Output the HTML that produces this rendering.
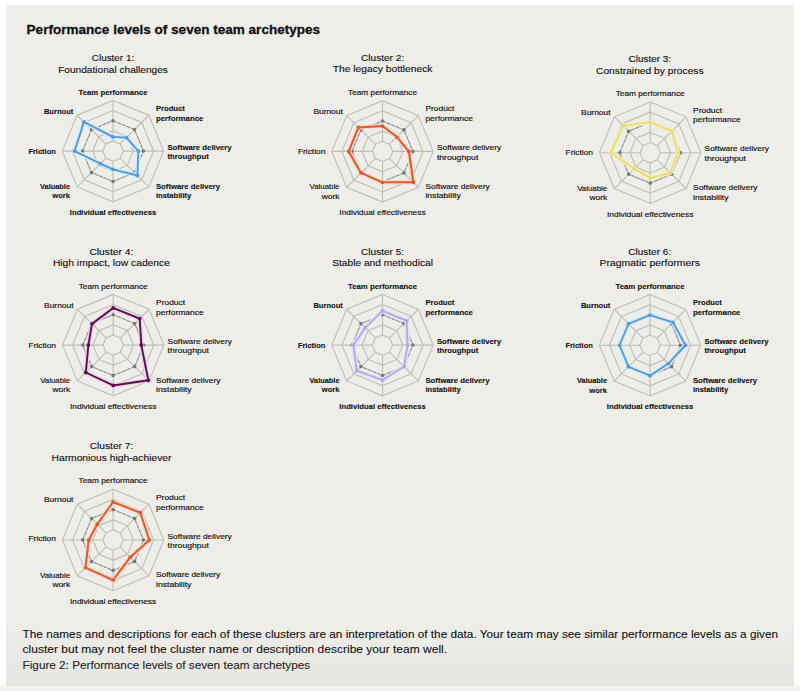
<!DOCTYPE html>
<html><head><meta charset="utf-8"><style>
html,body{margin:0;padding:0;background:#fff;width:800px;height:691px;overflow:hidden}
.panel{position:absolute;left:6px;top:5px;width:788px;height:681px;background:linear-gradient(to bottom,#eeede9 0,#eeede9 620px,#e6e5e1 681px)}
.bot{position:absolute;left:0;top:686px;width:800px;height:5px;background:linear-gradient(to bottom,#f6f5f2 0,#f6f5f2 1px,#f0f0f0 2px)}
svg{position:absolute;left:0;top:0}
text{font-family:"Liberation Sans",Arial,sans-serif;fill:#111111}
.title{font-size:13.4px;font-weight:bold;stroke:#111111;stroke-width:0.3px}
.ct{font-size:9.4px;stroke:#111111;stroke-width:0.12px}
.al{font-size:7.7px}
.al.b{font-weight:bold;stroke:#151515;stroke-width:0.12px}
.al.m{stroke:#111111;stroke-width:0.16px}
.foot{font-size:11.6px;stroke:#111111;stroke-width:0.1px}
.f3{fill:#262626;stroke:#262626;stroke-width:0.12px}
.gr{fill:none;stroke:#bdbdbb;stroke-width:1.1}
.av{fill:none;stroke:#888888;stroke-width:0.95;stroke-dasharray:3.5 1.5}
.ad{fill:#767a76}
</style></head><body>
<div class="panel"></div><div class="bot"></div>
<svg width="800" height="691" viewBox="0 0 800 691">
<text x="26.6" y="34" class="title" textLength="293.5" lengthAdjust="spacingAndGlyphs">Performance levels of seven team archetypes</text>
<g><polygon points="113.00,140.96 120.17,143.93 123.14,151.10 120.17,158.27 113.00,161.24 105.83,158.27 102.86,151.10 105.83,143.93" class="gr"/>
<polygon points="113.00,130.82 127.34,136.76 133.28,151.10 127.34,165.44 113.00,171.38 98.66,165.44 92.72,151.10 98.66,136.76" class="gr"/>
<polygon points="113.00,120.68 134.51,129.59 143.42,151.10 134.51,172.61 113.00,181.52 91.49,172.61 82.58,151.10 91.49,129.59" class="gr"/>
<polygon points="113.00,110.54 141.68,122.42 153.56,151.10 141.68,179.78 113.00,191.66 84.32,179.78 72.44,151.10 84.32,122.42" class="gr"/>
<polygon points="113.00,100.40 148.85,115.25 163.70,151.10 148.85,186.95 113.00,201.80 77.15,186.95 62.30,151.10 77.15,115.25" class="gr"/>
<line x1="113.00" y1="140.96" x2="113.00" y2="100.40" class="gr"/>
<line x1="120.17" y1="143.93" x2="148.85" y2="115.25" class="gr"/>
<line x1="123.14" y1="151.10" x2="163.70" y2="151.10" class="gr"/>
<line x1="120.17" y1="158.27" x2="148.85" y2="186.95" class="gr"/>
<line x1="113.00" y1="161.24" x2="113.00" y2="201.80" class="gr"/>
<line x1="105.83" y1="158.27" x2="77.15" y2="186.95" class="gr"/>
<line x1="102.86" y1="151.10" x2="62.30" y2="151.10" class="gr"/>
<line x1="105.83" y1="143.93" x2="77.15" y2="115.25" class="gr"/>
<polygon points="113.00,120.68 134.51,129.59 143.42,151.10 134.51,172.61 113.00,181.52 91.49,172.61 82.58,151.10 91.49,129.59" class="av"/>
<circle cx="113.00" cy="120.68" r="1.8" class="ad"/>
<circle cx="134.51" cy="129.59" r="1.8" class="ad"/>
<circle cx="143.42" cy="151.10" r="1.8" class="ad"/>
<circle cx="134.51" cy="172.61" r="1.8" class="ad"/>
<circle cx="113.00" cy="181.52" r="1.8" class="ad"/>
<circle cx="91.49" cy="172.61" r="1.8" class="ad"/>
<circle cx="82.58" cy="151.10" r="1.8" class="ad"/>
<circle cx="91.49" cy="129.59" r="1.8" class="ad"/>
<polygon points="113.00,136.90 126.48,137.62 138.35,151.10 137.38,175.48 113.00,169.35 100.45,163.65 74.67,151.10 83.82,121.92" fill="none" stroke="#d3ebf8" stroke-width="4.6" stroke-linejoin="round"/>
<polygon points="113.00,136.90 126.48,137.62 138.35,151.10 137.38,175.48 113.00,169.35 100.45,163.65 74.67,151.10 83.82,121.92" fill="none" stroke="#5399da" stroke-width="1.85" stroke-linejoin="round"/>
<circle cx="113.00" cy="136.90" r="1.9" fill="#5399da"/>
<circle cx="126.48" cy="137.62" r="1.9" fill="#5399da"/>
<circle cx="138.35" cy="151.10" r="1.9" fill="#5399da"/>
<circle cx="137.38" cy="175.48" r="1.9" fill="#5399da"/>
<circle cx="113.00" cy="169.35" r="1.9" fill="#5399da"/>
<circle cx="100.45" cy="163.65" r="1.9" fill="#5399da"/>
<circle cx="74.67" cy="151.10" r="1.9" fill="#5399da"/>
<circle cx="83.82" cy="121.92" r="1.9" fill="#5399da"/>
<text x="113.00" y="60.80" text-anchor="middle" class="ct" textLength="42.3" lengthAdjust="spacingAndGlyphs">Cluster 1:</text>
<text x="113.00" y="72.60" text-anchor="middle" class="ct" textLength="109.7" lengthAdjust="spacingAndGlyphs">Foundational challenges</text>
<text x="113.00" y="94.50" text-anchor="middle" class="al b" textLength="69.0" lengthAdjust="spacingAndGlyphs">Team performance</text>
<text x="155.90" y="111.10" text-anchor="start" class="al b" textLength="29.0" lengthAdjust="spacingAndGlyphs">Product</text>
<text x="155.90" y="120.60" text-anchor="start" class="al b" textLength="47.6" lengthAdjust="spacingAndGlyphs">performance</text>
<text x="167.40" y="149.80" text-anchor="start" class="al b" textLength="64.3" lengthAdjust="spacingAndGlyphs">Software delivery</text>
<text x="167.40" y="159.30" text-anchor="start" class="al b" textLength="41.4" lengthAdjust="spacingAndGlyphs">throughput</text>
<text x="155.90" y="188.50" text-anchor="start" class="al b" textLength="64.3" lengthAdjust="spacingAndGlyphs">Software delivery</text>
<text x="155.90" y="198.00" text-anchor="start" class="al b" textLength="35.4" lengthAdjust="spacingAndGlyphs">instability</text>
<text x="113.00" y="214.90" text-anchor="middle" class="al b" textLength="86.3" lengthAdjust="spacingAndGlyphs">Individual effectiveness</text>
<text x="70.00" y="188.90" text-anchor="end" class="al b" textLength="30.0" lengthAdjust="spacingAndGlyphs">Valuable</text>
<text x="70.00" y="198.40" text-anchor="end" class="al b" textLength="17.7" lengthAdjust="spacingAndGlyphs">work</text>
<text x="55.80" y="153.50" text-anchor="end" class="al b" textLength="27.4" lengthAdjust="spacingAndGlyphs">Friction</text>
<text x="73.30" y="113.50" text-anchor="end" class="al b" textLength="29.4" lengthAdjust="spacingAndGlyphs">Burnout</text></g>
<g><polygon points="382.50,141.26 389.67,144.23 392.64,151.40 389.67,158.57 382.50,161.54 375.33,158.57 372.36,151.40 375.33,144.23" class="gr"/>
<polygon points="382.50,131.12 396.84,137.06 402.78,151.40 396.84,165.74 382.50,171.68 368.16,165.74 362.22,151.40 368.16,137.06" class="gr"/>
<polygon points="382.50,120.98 404.01,129.89 412.92,151.40 404.01,172.91 382.50,181.82 360.99,172.91 352.08,151.40 360.99,129.89" class="gr"/>
<polygon points="382.50,110.84 411.18,122.72 423.06,151.40 411.18,180.08 382.50,191.96 353.82,180.08 341.94,151.40 353.82,122.72" class="gr"/>
<polygon points="382.50,100.70 418.35,115.55 433.20,151.40 418.35,187.25 382.50,202.10 346.65,187.25 331.80,151.40 346.65,115.55" class="gr"/>
<line x1="382.50" y1="141.26" x2="382.50" y2="100.70" class="gr"/>
<line x1="389.67" y1="144.23" x2="418.35" y2="115.55" class="gr"/>
<line x1="392.64" y1="151.40" x2="433.20" y2="151.40" class="gr"/>
<line x1="389.67" y1="158.57" x2="418.35" y2="187.25" class="gr"/>
<line x1="382.50" y1="161.54" x2="382.50" y2="202.10" class="gr"/>
<line x1="375.33" y1="158.57" x2="346.65" y2="187.25" class="gr"/>
<line x1="372.36" y1="151.40" x2="331.80" y2="151.40" class="gr"/>
<line x1="375.33" y1="144.23" x2="346.65" y2="115.55" class="gr"/>
<polygon points="382.50,120.98 404.01,129.89 412.92,151.40 404.01,172.91 382.50,181.82 360.99,172.91 352.08,151.40 360.99,129.89" class="av"/>
<circle cx="382.50" cy="120.98" r="1.8" class="ad"/>
<circle cx="404.01" cy="129.89" r="1.8" class="ad"/>
<circle cx="412.92" cy="151.40" r="1.8" class="ad"/>
<circle cx="404.01" cy="172.91" r="1.8" class="ad"/>
<circle cx="382.50" cy="181.82" r="1.8" class="ad"/>
<circle cx="360.99" cy="172.91" r="1.8" class="ad"/>
<circle cx="352.08" cy="151.40" r="1.8" class="ad"/>
<circle cx="360.99" cy="129.89" r="1.8" class="ad"/>
<polygon points="382.50,126.05 396.84,137.06 408.86,151.40 413.33,182.23 382.50,182.33 360.99,172.91 348.73,151.40 358.48,127.38" fill="none" stroke="#f3d9cb" stroke-width="4.6" stroke-linejoin="round"/>
<polygon points="382.50,126.05 396.84,137.06 408.86,151.40 413.33,182.23 382.50,182.33 360.99,172.91 348.73,151.40 358.48,127.38" fill="none" stroke="#e05c2a" stroke-width="2.0" stroke-linejoin="round"/>
<circle cx="382.50" cy="126.05" r="1.9" fill="#e05c2a"/>
<circle cx="396.84" cy="137.06" r="1.9" fill="#e05c2a"/>
<circle cx="408.86" cy="151.40" r="1.9" fill="#e05c2a"/>
<circle cx="413.33" cy="182.23" r="1.9" fill="#e05c2a"/>
<circle cx="382.50" cy="182.33" r="1.9" fill="#e05c2a"/>
<circle cx="360.99" cy="172.91" r="1.9" fill="#e05c2a"/>
<circle cx="348.73" cy="151.40" r="1.9" fill="#e05c2a"/>
<circle cx="358.48" cy="127.38" r="1.9" fill="#e05c2a"/>
<text x="382.60" y="60.80" text-anchor="middle" class="ct" textLength="43.2" lengthAdjust="spacingAndGlyphs">Cluster 2:</text>
<text x="382.60" y="72.40" text-anchor="middle" class="ct" textLength="99.7" lengthAdjust="spacingAndGlyphs">The legacy bottleneck</text>
<text x="382.50" y="94.80" text-anchor="middle" class="al m" textLength="69.0" lengthAdjust="spacingAndGlyphs">Team performance</text>
<text x="425.40" y="111.40" text-anchor="start" class="al m" textLength="29.0" lengthAdjust="spacingAndGlyphs">Product</text>
<text x="425.40" y="120.90" text-anchor="start" class="al m" textLength="47.6" lengthAdjust="spacingAndGlyphs">performance</text>
<text x="436.90" y="150.10" text-anchor="start" class="al m" textLength="64.3" lengthAdjust="spacingAndGlyphs">Software delivery</text>
<text x="436.90" y="159.60" text-anchor="start" class="al m" textLength="41.4" lengthAdjust="spacingAndGlyphs">throughput</text>
<text x="425.40" y="188.80" text-anchor="start" class="al m" textLength="64.3" lengthAdjust="spacingAndGlyphs">Software delivery</text>
<text x="425.40" y="198.30" text-anchor="start" class="al m" textLength="35.4" lengthAdjust="spacingAndGlyphs">instability</text>
<text x="382.50" y="215.20" text-anchor="middle" class="al m" textLength="86.3" lengthAdjust="spacingAndGlyphs">Individual effectiveness</text>
<text x="339.50" y="189.20" text-anchor="end" class="al m" textLength="30.0" lengthAdjust="spacingAndGlyphs">Valuable</text>
<text x="339.50" y="198.70" text-anchor="end" class="al m" textLength="17.7" lengthAdjust="spacingAndGlyphs">work</text>
<text x="325.30" y="153.80" text-anchor="end" class="al m" textLength="27.4" lengthAdjust="spacingAndGlyphs">Friction</text>
<text x="342.80" y="113.80" text-anchor="end" class="al m" textLength="29.4" lengthAdjust="spacingAndGlyphs">Burnout</text></g>
<g><polygon points="650.20,142.56 657.37,145.53 660.34,152.70 657.37,159.87 650.20,162.84 643.03,159.87 640.06,152.70 643.03,145.53" class="gr"/>
<polygon points="650.20,132.42 664.54,138.36 670.48,152.70 664.54,167.04 650.20,172.98 635.86,167.04 629.92,152.70 635.86,138.36" class="gr"/>
<polygon points="650.20,122.28 671.71,131.19 680.62,152.70 671.71,174.21 650.20,183.12 628.69,174.21 619.78,152.70 628.69,131.19" class="gr"/>
<polygon points="650.20,112.14 678.88,124.02 690.76,152.70 678.88,181.38 650.20,193.26 621.52,181.38 609.64,152.70 621.52,124.02" class="gr"/>
<polygon points="650.20,102.00 686.05,116.85 700.90,152.70 686.05,188.55 650.20,203.40 614.35,188.55 599.50,152.70 614.35,116.85" class="gr"/>
<line x1="650.20" y1="142.56" x2="650.20" y2="102.00" class="gr"/>
<line x1="657.37" y1="145.53" x2="686.05" y2="116.85" class="gr"/>
<line x1="660.34" y1="152.70" x2="700.90" y2="152.70" class="gr"/>
<line x1="657.37" y1="159.87" x2="686.05" y2="188.55" class="gr"/>
<line x1="650.20" y1="162.84" x2="650.20" y2="203.40" class="gr"/>
<line x1="643.03" y1="159.87" x2="614.35" y2="188.55" class="gr"/>
<line x1="640.06" y1="152.70" x2="599.50" y2="152.70" class="gr"/>
<line x1="643.03" y1="145.53" x2="614.35" y2="116.85" class="gr"/>
<polygon points="650.20,122.28 671.71,131.19 680.62,152.70 671.71,174.21 650.20,183.12 628.69,174.21 619.78,152.70 628.69,131.19" class="av"/>
<circle cx="650.20" cy="122.28" r="1.8" class="ad"/>
<circle cx="671.71" cy="131.19" r="1.8" class="ad"/>
<circle cx="680.62" cy="152.70" r="1.8" class="ad"/>
<circle cx="671.71" cy="174.21" r="1.8" class="ad"/>
<circle cx="650.20" cy="183.12" r="1.8" class="ad"/>
<circle cx="628.69" cy="174.21" r="1.8" class="ad"/>
<circle cx="619.78" cy="152.70" r="1.8" class="ad"/>
<circle cx="628.69" cy="131.19" r="1.8" class="ad"/>
<polygon points="650.20,122.28 671.85,131.05 677.98,152.70 670.28,172.78 650.20,178.05 634.28,168.62 610.86,152.70 623.10,125.60" fill="none" stroke="#f2efc4" stroke-width="4.6" stroke-linejoin="round"/>
<polygon points="650.20,122.28 671.85,131.05 677.98,152.70 670.28,172.78 650.20,178.05 634.28,168.62 610.86,152.70 623.10,125.60" fill="none" stroke="#e5de7a" stroke-width="1.8" stroke-linejoin="round"/>
<circle cx="650.20" cy="122.28" r="1.9" fill="#e5de7a"/>
<circle cx="671.85" cy="131.05" r="1.9" fill="#e5de7a"/>
<circle cx="677.98" cy="152.70" r="1.9" fill="#e5de7a"/>
<circle cx="670.28" cy="172.78" r="1.9" fill="#e5de7a"/>
<circle cx="650.20" cy="178.05" r="1.9" fill="#e5de7a"/>
<circle cx="634.28" cy="168.62" r="1.9" fill="#e5de7a"/>
<circle cx="610.86" cy="152.70" r="1.9" fill="#e5de7a"/>
<circle cx="623.10" cy="125.60" r="1.9" fill="#e5de7a"/>
<text x="649.80" y="62.40" text-anchor="middle" class="ct" textLength="42.6" lengthAdjust="spacingAndGlyphs">Cluster 3:</text>
<text x="649.80" y="74.00" text-anchor="middle" class="ct" textLength="107.6" lengthAdjust="spacingAndGlyphs">Constrained by process</text>
<text x="650.20" y="96.10" text-anchor="middle" class="al m" textLength="69.0" lengthAdjust="spacingAndGlyphs">Team performance</text>
<text x="693.10" y="112.70" text-anchor="start" class="al m" textLength="29.0" lengthAdjust="spacingAndGlyphs">Product</text>
<text x="693.10" y="122.20" text-anchor="start" class="al m" textLength="47.6" lengthAdjust="spacingAndGlyphs">performance</text>
<text x="704.60" y="151.40" text-anchor="start" class="al m" textLength="64.3" lengthAdjust="spacingAndGlyphs">Software delivery</text>
<text x="704.60" y="160.90" text-anchor="start" class="al m" textLength="41.4" lengthAdjust="spacingAndGlyphs">throughput</text>
<text x="693.10" y="190.10" text-anchor="start" class="al m" textLength="64.3" lengthAdjust="spacingAndGlyphs">Software delivery</text>
<text x="693.10" y="199.60" text-anchor="start" class="al m" textLength="35.4" lengthAdjust="spacingAndGlyphs">instability</text>
<text x="650.20" y="216.50" text-anchor="middle" class="al m" textLength="86.3" lengthAdjust="spacingAndGlyphs">Individual effectiveness</text>
<text x="607.20" y="190.50" text-anchor="end" class="al m" textLength="30.0" lengthAdjust="spacingAndGlyphs">Valuable</text>
<text x="607.20" y="200.00" text-anchor="end" class="al m" textLength="17.7" lengthAdjust="spacingAndGlyphs">work</text>
<text x="593.00" y="155.10" text-anchor="end" class="al m" textLength="27.4" lengthAdjust="spacingAndGlyphs">Friction</text>
<text x="610.50" y="115.10" text-anchor="end" class="al m" textLength="29.4" lengthAdjust="spacingAndGlyphs">Burnout</text></g>
<g><polygon points="113.20,334.96 120.37,337.93 123.34,345.10 120.37,352.27 113.20,355.24 106.03,352.27 103.06,345.10 106.03,337.93" class="gr"/>
<polygon points="113.20,324.82 127.54,330.76 133.48,345.10 127.54,359.44 113.20,365.38 98.86,359.44 92.92,345.10 98.86,330.76" class="gr"/>
<polygon points="113.20,314.68 134.71,323.59 143.62,345.10 134.71,366.61 113.20,375.52 91.69,366.61 82.78,345.10 91.69,323.59" class="gr"/>
<polygon points="113.20,304.54 141.88,316.42 153.76,345.10 141.88,373.78 113.20,385.66 84.52,373.78 72.64,345.10 84.52,316.42" class="gr"/>
<polygon points="113.20,294.40 149.05,309.25 163.90,345.10 149.05,380.95 113.20,395.80 77.35,380.95 62.50,345.10 77.35,309.25" class="gr"/>
<line x1="113.20" y1="334.96" x2="113.20" y2="294.40" class="gr"/>
<line x1="120.37" y1="337.93" x2="149.05" y2="309.25" class="gr"/>
<line x1="123.34" y1="345.10" x2="163.90" y2="345.10" class="gr"/>
<line x1="120.37" y1="352.27" x2="149.05" y2="380.95" class="gr"/>
<line x1="113.20" y1="355.24" x2="113.20" y2="395.80" class="gr"/>
<line x1="106.03" y1="352.27" x2="77.35" y2="380.95" class="gr"/>
<line x1="103.06" y1="345.10" x2="62.50" y2="345.10" class="gr"/>
<line x1="106.03" y1="337.93" x2="77.35" y2="309.25" class="gr"/>
<polygon points="113.20,314.68 134.71,323.59 143.62,345.10 134.71,366.61 113.20,375.52 91.69,366.61 82.78,345.10 91.69,323.59" class="av"/>
<circle cx="113.20" cy="314.68" r="1.8" class="ad"/>
<circle cx="134.71" cy="323.59" r="1.8" class="ad"/>
<circle cx="143.62" cy="345.10" r="1.8" class="ad"/>
<circle cx="134.71" cy="366.61" r="1.8" class="ad"/>
<circle cx="113.20" cy="375.52" r="1.8" class="ad"/>
<circle cx="91.69" cy="366.61" r="1.8" class="ad"/>
<circle cx="82.78" cy="345.10" r="1.8" class="ad"/>
<circle cx="91.69" cy="323.59" r="1.8" class="ad"/>
<polygon points="113.20,307.99 139.73,318.57 141.29,345.10 148.33,380.23 113.20,385.46 85.81,372.49 88.36,345.10 91.98,323.88" fill="none" stroke="#edd3e8" stroke-width="4.6" stroke-linejoin="round"/>
<polygon points="113.20,307.99 139.73,318.57 141.29,345.10 148.33,380.23 113.20,385.46 85.81,372.49 88.36,345.10 91.98,323.88" fill="none" stroke="#5e0c52" stroke-width="1.9" stroke-linejoin="round"/>
<circle cx="113.20" cy="307.99" r="1.9" fill="#5e0c52"/>
<circle cx="139.73" cy="318.57" r="1.9" fill="#5e0c52"/>
<circle cx="141.29" cy="345.10" r="1.9" fill="#5e0c52"/>
<circle cx="148.33" cy="380.23" r="1.9" fill="#5e0c52"/>
<circle cx="113.20" cy="385.46" r="1.9" fill="#5e0c52"/>
<circle cx="85.81" cy="372.49" r="1.9" fill="#5e0c52"/>
<circle cx="88.36" cy="345.10" r="1.9" fill="#5e0c52"/>
<circle cx="91.98" cy="323.88" r="1.9" fill="#5e0c52"/>
<text x="111.40" y="255.00" text-anchor="middle" class="ct" textLength="43.9" lengthAdjust="spacingAndGlyphs">Cluster 4:</text>
<text x="111.40" y="266.30" text-anchor="middle" class="ct" textLength="117.0" lengthAdjust="spacingAndGlyphs">High impact, low cadence</text>
<text x="113.20" y="288.50" text-anchor="middle" class="al m" textLength="69.0" lengthAdjust="spacingAndGlyphs">Team performance</text>
<text x="156.10" y="305.10" text-anchor="start" class="al m" textLength="29.0" lengthAdjust="spacingAndGlyphs">Product</text>
<text x="156.10" y="314.60" text-anchor="start" class="al m" textLength="47.6" lengthAdjust="spacingAndGlyphs">performance</text>
<text x="167.60" y="343.80" text-anchor="start" class="al m" textLength="64.3" lengthAdjust="spacingAndGlyphs">Software delivery</text>
<text x="167.60" y="353.30" text-anchor="start" class="al m" textLength="41.4" lengthAdjust="spacingAndGlyphs">throughput</text>
<text x="156.10" y="382.50" text-anchor="start" class="al m" textLength="64.3" lengthAdjust="spacingAndGlyphs">Software delivery</text>
<text x="156.10" y="392.00" text-anchor="start" class="al m" textLength="35.4" lengthAdjust="spacingAndGlyphs">instability</text>
<text x="113.20" y="408.90" text-anchor="middle" class="al m" textLength="86.3" lengthAdjust="spacingAndGlyphs">Individual effectiveness</text>
<text x="70.20" y="382.90" text-anchor="end" class="al m" textLength="30.0" lengthAdjust="spacingAndGlyphs">Valuable</text>
<text x="70.20" y="392.40" text-anchor="end" class="al m" textLength="17.7" lengthAdjust="spacingAndGlyphs">work</text>
<text x="56.00" y="347.50" text-anchor="end" class="al m" textLength="27.4" lengthAdjust="spacingAndGlyphs">Friction</text>
<text x="73.50" y="307.50" text-anchor="end" class="al m" textLength="29.4" lengthAdjust="spacingAndGlyphs">Burnout</text></g>
<g><polygon points="382.50,334.96 389.67,337.93 392.64,345.10 389.67,352.27 382.50,355.24 375.33,352.27 372.36,345.10 375.33,337.93" class="gr"/>
<polygon points="382.50,324.82 396.84,330.76 402.78,345.10 396.84,359.44 382.50,365.38 368.16,359.44 362.22,345.10 368.16,330.76" class="gr"/>
<polygon points="382.50,314.68 404.01,323.59 412.92,345.10 404.01,366.61 382.50,375.52 360.99,366.61 352.08,345.10 360.99,323.59" class="gr"/>
<polygon points="382.50,304.54 411.18,316.42 423.06,345.10 411.18,373.78 382.50,385.66 353.82,373.78 341.94,345.10 353.82,316.42" class="gr"/>
<polygon points="382.50,294.40 418.35,309.25 433.20,345.10 418.35,380.95 382.50,395.80 346.65,380.95 331.80,345.10 346.65,309.25" class="gr"/>
<line x1="382.50" y1="334.96" x2="382.50" y2="294.40" class="gr"/>
<line x1="389.67" y1="337.93" x2="418.35" y2="309.25" class="gr"/>
<line x1="392.64" y1="345.10" x2="433.20" y2="345.10" class="gr"/>
<line x1="389.67" y1="352.27" x2="418.35" y2="380.95" class="gr"/>
<line x1="382.50" y1="355.24" x2="382.50" y2="395.80" class="gr"/>
<line x1="375.33" y1="352.27" x2="346.65" y2="380.95" class="gr"/>
<line x1="372.36" y1="345.10" x2="331.80" y2="345.10" class="gr"/>
<line x1="375.33" y1="337.93" x2="346.65" y2="309.25" class="gr"/>
<polygon points="382.50,314.68 404.01,323.59 412.92,345.10 404.01,366.61 382.50,375.52 360.99,366.61 352.08,345.10 360.99,323.59" class="av"/>
<circle cx="382.50" cy="314.68" r="1.8" class="ad"/>
<circle cx="404.01" cy="323.59" r="1.8" class="ad"/>
<circle cx="412.92" cy="345.10" r="1.8" class="ad"/>
<circle cx="404.01" cy="366.61" r="1.8" class="ad"/>
<circle cx="382.50" cy="375.52" r="1.8" class="ad"/>
<circle cx="360.99" cy="366.61" r="1.8" class="ad"/>
<circle cx="352.08" cy="345.10" r="1.8" class="ad"/>
<circle cx="360.99" cy="323.59" r="1.8" class="ad"/>
<polygon points="382.50,310.83 406.73,320.87 407.65,345.10 404.01,366.61 382.50,380.08 356.83,370.77 353.50,345.10 365.15,327.75" fill="none" stroke="#e4e2f5" stroke-width="4.6" stroke-linejoin="round"/>
<polygon points="382.50,310.83 406.73,320.87 407.65,345.10 404.01,366.61 382.50,380.08 356.83,370.77 353.50,345.10 365.15,327.75" fill="none" stroke="#aca8ec" stroke-width="1.7" stroke-linejoin="round"/>
<circle cx="382.50" cy="310.83" r="1.9" fill="#aca8ec"/>
<circle cx="406.73" cy="320.87" r="1.9" fill="#aca8ec"/>
<circle cx="407.65" cy="345.10" r="1.9" fill="#aca8ec"/>
<circle cx="404.01" cy="366.61" r="1.9" fill="#aca8ec"/>
<circle cx="382.50" cy="380.08" r="1.9" fill="#aca8ec"/>
<circle cx="356.83" cy="370.77" r="1.9" fill="#aca8ec"/>
<circle cx="353.50" cy="345.10" r="1.9" fill="#aca8ec"/>
<circle cx="365.15" cy="327.75" r="1.9" fill="#aca8ec"/>
<text x="382.60" y="255.00" text-anchor="middle" class="ct" textLength="43.0" lengthAdjust="spacingAndGlyphs">Cluster 5:</text>
<text x="382.60" y="266.30" text-anchor="middle" class="ct" textLength="100.7" lengthAdjust="spacingAndGlyphs">Stable and methodical</text>
<text x="382.50" y="288.50" text-anchor="middle" class="al b" textLength="69.0" lengthAdjust="spacingAndGlyphs">Team performance</text>
<text x="425.40" y="305.10" text-anchor="start" class="al b" textLength="29.0" lengthAdjust="spacingAndGlyphs">Product</text>
<text x="425.40" y="314.60" text-anchor="start" class="al b" textLength="47.6" lengthAdjust="spacingAndGlyphs">performance</text>
<text x="436.90" y="343.80" text-anchor="start" class="al b" textLength="64.3" lengthAdjust="spacingAndGlyphs">Software delivery</text>
<text x="436.90" y="353.30" text-anchor="start" class="al b" textLength="41.4" lengthAdjust="spacingAndGlyphs">throughput</text>
<text x="425.40" y="382.50" text-anchor="start" class="al b" textLength="64.3" lengthAdjust="spacingAndGlyphs">Software delivery</text>
<text x="425.40" y="392.00" text-anchor="start" class="al b" textLength="35.4" lengthAdjust="spacingAndGlyphs">instability</text>
<text x="382.50" y="408.90" text-anchor="middle" class="al b" textLength="86.3" lengthAdjust="spacingAndGlyphs">Individual effectiveness</text>
<text x="339.50" y="382.90" text-anchor="end" class="al b" textLength="30.0" lengthAdjust="spacingAndGlyphs">Valuable</text>
<text x="339.50" y="392.40" text-anchor="end" class="al b" textLength="17.7" lengthAdjust="spacingAndGlyphs">work</text>
<text x="325.30" y="347.50" text-anchor="end" class="al b" textLength="27.4" lengthAdjust="spacingAndGlyphs">Friction</text>
<text x="342.80" y="307.50" text-anchor="end" class="al b" textLength="29.4" lengthAdjust="spacingAndGlyphs">Burnout</text></g>
<g><polygon points="650.00,335.11 657.17,338.08 660.14,345.25 657.17,352.42 650.00,355.39 642.83,352.42 639.86,345.25 642.83,338.08" class="gr"/>
<polygon points="650.00,324.97 664.34,330.91 670.28,345.25 664.34,359.59 650.00,365.53 635.66,359.59 629.72,345.25 635.66,330.91" class="gr"/>
<polygon points="650.00,314.83 671.51,323.74 680.42,345.25 671.51,366.76 650.00,375.67 628.49,366.76 619.58,345.25 628.49,323.74" class="gr"/>
<polygon points="650.00,304.69 678.68,316.57 690.56,345.25 678.68,373.93 650.00,385.81 621.32,373.93 609.44,345.25 621.32,316.57" class="gr"/>
<polygon points="650.00,294.55 685.85,309.40 700.70,345.25 685.85,381.10 650.00,395.95 614.15,381.10 599.30,345.25 614.15,309.40" class="gr"/>
<line x1="650.00" y1="335.11" x2="650.00" y2="294.55" class="gr"/>
<line x1="657.17" y1="338.08" x2="685.85" y2="309.40" class="gr"/>
<line x1="660.14" y1="345.25" x2="700.70" y2="345.25" class="gr"/>
<line x1="657.17" y1="352.42" x2="685.85" y2="381.10" class="gr"/>
<line x1="650.00" y1="355.39" x2="650.00" y2="395.95" class="gr"/>
<line x1="642.83" y1="352.42" x2="614.15" y2="381.10" class="gr"/>
<line x1="639.86" y1="345.25" x2="599.30" y2="345.25" class="gr"/>
<line x1="642.83" y1="338.08" x2="614.15" y2="309.40" class="gr"/>
<polygon points="650.00,314.83 671.51,323.74 680.42,345.25 671.51,366.76 650.00,375.67 628.49,366.76 619.58,345.25 628.49,323.74" class="av"/>
<circle cx="650.00" cy="314.83" r="1.8" class="ad"/>
<circle cx="671.51" cy="323.74" r="1.8" class="ad"/>
<circle cx="680.42" cy="345.25" r="1.8" class="ad"/>
<circle cx="671.51" cy="366.76" r="1.8" class="ad"/>
<circle cx="650.00" cy="375.67" r="1.8" class="ad"/>
<circle cx="628.49" cy="366.76" r="1.8" class="ad"/>
<circle cx="619.58" cy="345.25" r="1.8" class="ad"/>
<circle cx="628.49" cy="323.74" r="1.8" class="ad"/>
<polygon points="650.00,315.03 672.94,322.31 685.49,345.25 668.28,363.53 650.00,375.67 628.49,366.76 619.58,345.25 628.49,323.74" fill="none" stroke="#d3ebf8" stroke-width="4.6" stroke-linejoin="round"/>
<polygon points="650.00,315.03 672.94,322.31 685.49,345.25 668.28,363.53 650.00,375.67 628.49,366.76 619.58,345.25 628.49,323.74" fill="none" stroke="#5399da" stroke-width="1.85" stroke-linejoin="round"/>
<circle cx="650.00" cy="315.03" r="1.9" fill="#5399da"/>
<circle cx="672.94" cy="322.31" r="1.9" fill="#5399da"/>
<circle cx="685.49" cy="345.25" r="1.9" fill="#5399da"/>
<circle cx="668.28" cy="363.53" r="1.9" fill="#5399da"/>
<circle cx="650.00" cy="375.67" r="1.9" fill="#5399da"/>
<circle cx="628.49" cy="366.76" r="1.9" fill="#5399da"/>
<circle cx="619.58" cy="345.25" r="1.9" fill="#5399da"/>
<circle cx="628.49" cy="323.74" r="1.9" fill="#5399da"/>
<text x="649.70" y="255.00" text-anchor="middle" class="ct" textLength="43.0" lengthAdjust="spacingAndGlyphs">Cluster 6:</text>
<text x="649.70" y="266.30" text-anchor="middle" class="ct" textLength="100.4" lengthAdjust="spacingAndGlyphs">Pragmatic performers</text>
<text x="650.00" y="288.65" text-anchor="middle" class="al b" textLength="69.0" lengthAdjust="spacingAndGlyphs">Team performance</text>
<text x="692.90" y="305.25" text-anchor="start" class="al b" textLength="29.0" lengthAdjust="spacingAndGlyphs">Product</text>
<text x="692.90" y="314.75" text-anchor="start" class="al b" textLength="47.6" lengthAdjust="spacingAndGlyphs">performance</text>
<text x="704.40" y="343.95" text-anchor="start" class="al b" textLength="64.3" lengthAdjust="spacingAndGlyphs">Software delivery</text>
<text x="704.40" y="353.45" text-anchor="start" class="al b" textLength="41.4" lengthAdjust="spacingAndGlyphs">throughput</text>
<text x="692.90" y="382.65" text-anchor="start" class="al b" textLength="64.3" lengthAdjust="spacingAndGlyphs">Software delivery</text>
<text x="692.90" y="392.15" text-anchor="start" class="al b" textLength="35.4" lengthAdjust="spacingAndGlyphs">instability</text>
<text x="650.00" y="409.05" text-anchor="middle" class="al b" textLength="86.3" lengthAdjust="spacingAndGlyphs">Individual effectiveness</text>
<text x="607.00" y="383.05" text-anchor="end" class="al b" textLength="30.0" lengthAdjust="spacingAndGlyphs">Valuable</text>
<text x="607.00" y="392.55" text-anchor="end" class="al b" textLength="17.7" lengthAdjust="spacingAndGlyphs">work</text>
<text x="592.80" y="347.65" text-anchor="end" class="al b" textLength="27.4" lengthAdjust="spacingAndGlyphs">Friction</text>
<text x="610.30" y="307.65" text-anchor="end" class="al b" textLength="29.4" lengthAdjust="spacingAndGlyphs">Burnout</text></g>
<g><polygon points="113.10,529.86 120.27,532.83 123.24,540.00 120.27,547.17 113.10,550.14 105.93,547.17 102.96,540.00 105.93,532.83" class="gr"/>
<polygon points="113.10,519.72 127.44,525.66 133.38,540.00 127.44,554.34 113.10,560.28 98.76,554.34 92.82,540.00 98.76,525.66" class="gr"/>
<polygon points="113.10,509.58 134.61,518.49 143.52,540.00 134.61,561.51 113.10,570.42 91.59,561.51 82.68,540.00 91.59,518.49" class="gr"/>
<polygon points="113.10,499.44 141.78,511.32 153.66,540.00 141.78,568.68 113.10,580.56 84.42,568.68 72.54,540.00 84.42,511.32" class="gr"/>
<polygon points="113.10,489.30 148.95,504.15 163.80,540.00 148.95,575.85 113.10,590.70 77.25,575.85 62.40,540.00 77.25,504.15" class="gr"/>
<line x1="113.10" y1="529.86" x2="113.10" y2="489.30" class="gr"/>
<line x1="120.27" y1="532.83" x2="148.95" y2="504.15" class="gr"/>
<line x1="123.24" y1="540.00" x2="163.80" y2="540.00" class="gr"/>
<line x1="120.27" y1="547.17" x2="148.95" y2="575.85" class="gr"/>
<line x1="113.10" y1="550.14" x2="113.10" y2="590.70" class="gr"/>
<line x1="105.93" y1="547.17" x2="77.25" y2="575.85" class="gr"/>
<line x1="102.96" y1="540.00" x2="62.40" y2="540.00" class="gr"/>
<line x1="105.93" y1="532.83" x2="77.25" y2="504.15" class="gr"/>
<polygon points="113.10,509.58 134.61,518.49 143.52,540.00 134.61,561.51 113.10,570.42 91.59,561.51 82.68,540.00 91.59,518.49" class="av"/>
<circle cx="113.10" cy="509.58" r="1.8" class="ad"/>
<circle cx="134.61" cy="518.49" r="1.8" class="ad"/>
<circle cx="143.52" cy="540.00" r="1.8" class="ad"/>
<circle cx="134.61" cy="561.51" r="1.8" class="ad"/>
<circle cx="113.10" cy="570.42" r="1.8" class="ad"/>
<circle cx="91.59" cy="561.51" r="1.8" class="ad"/>
<circle cx="82.68" cy="540.00" r="1.8" class="ad"/>
<circle cx="91.59" cy="518.49" r="1.8" class="ad"/>
<polygon points="113.10,501.98 140.35,512.75 149.30,540.00 130.31,557.21 113.10,580.05 85.50,567.60 88.76,540.00 97.33,524.23" fill="none" stroke="#f4dacb" stroke-width="4.6" stroke-linejoin="round"/>
<polygon points="113.10,501.98 140.35,512.75 149.30,540.00 130.31,557.21 113.10,580.05 85.50,567.60 88.76,540.00 97.33,524.23" fill="none" stroke="#e35d2c" stroke-width="2.0" stroke-linejoin="round"/>
<circle cx="113.10" cy="501.98" r="1.9" fill="#e35d2c"/>
<circle cx="140.35" cy="512.75" r="1.9" fill="#e35d2c"/>
<circle cx="149.30" cy="540.00" r="1.9" fill="#e35d2c"/>
<circle cx="130.31" cy="557.21" r="1.9" fill="#e35d2c"/>
<circle cx="113.10" cy="580.05" r="1.9" fill="#e35d2c"/>
<circle cx="85.50" cy="567.60" r="1.9" fill="#e35d2c"/>
<circle cx="88.76" cy="540.00" r="1.9" fill="#e35d2c"/>
<circle cx="97.33" cy="524.23" r="1.9" fill="#e35d2c"/>
<text x="111.50" y="449.30" text-anchor="middle" class="ct" textLength="43.4" lengthAdjust="spacingAndGlyphs">Cluster 7:</text>
<text x="111.50" y="460.70" text-anchor="middle" class="ct" textLength="119.9" lengthAdjust="spacingAndGlyphs">Harmonious high-achiever</text>
<text x="113.10" y="483.40" text-anchor="middle" class="al m" textLength="69.0" lengthAdjust="spacingAndGlyphs">Team performance</text>
<text x="156.00" y="500.00" text-anchor="start" class="al m" textLength="29.0" lengthAdjust="spacingAndGlyphs">Product</text>
<text x="156.00" y="509.50" text-anchor="start" class="al m" textLength="47.6" lengthAdjust="spacingAndGlyphs">performance</text>
<text x="167.50" y="538.70" text-anchor="start" class="al m" textLength="64.3" lengthAdjust="spacingAndGlyphs">Software delivery</text>
<text x="167.50" y="548.20" text-anchor="start" class="al m" textLength="41.4" lengthAdjust="spacingAndGlyphs">throughput</text>
<text x="156.00" y="577.40" text-anchor="start" class="al m" textLength="64.3" lengthAdjust="spacingAndGlyphs">Software delivery</text>
<text x="156.00" y="586.90" text-anchor="start" class="al m" textLength="35.4" lengthAdjust="spacingAndGlyphs">instability</text>
<text x="113.10" y="603.80" text-anchor="middle" class="al m" textLength="86.3" lengthAdjust="spacingAndGlyphs">Individual effectiveness</text>
<text x="70.10" y="577.80" text-anchor="end" class="al m" textLength="30.0" lengthAdjust="spacingAndGlyphs">Valuable</text>
<text x="70.10" y="587.30" text-anchor="end" class="al m" textLength="17.7" lengthAdjust="spacingAndGlyphs">work</text>
<text x="55.90" y="541.00" text-anchor="end" class="al m" textLength="27.4" lengthAdjust="spacingAndGlyphs">Friction</text>
<text x="73.40" y="502.40" text-anchor="end" class="al m" textLength="29.4" lengthAdjust="spacingAndGlyphs">Burnout</text></g>
<text x="22.6" y="638.2" class="foot" textLength="755.5" lengthAdjust="spacingAndGlyphs">The names and descriptions for each of these clusters are an interpretation of the data. Your team may see similar performance levels as a given</text>
<text x="22.6" y="652.9" class="foot" textLength="424.5" lengthAdjust="spacingAndGlyphs">cluster but may not feel the cluster name or description describe your team well.</text>
<text x="22.6" y="669.1" class="foot f3" textLength="287.5" lengthAdjust="spacingAndGlyphs">Figure 2: Performance levels of seven team archetypes</text>
</svg>
</body></html>
